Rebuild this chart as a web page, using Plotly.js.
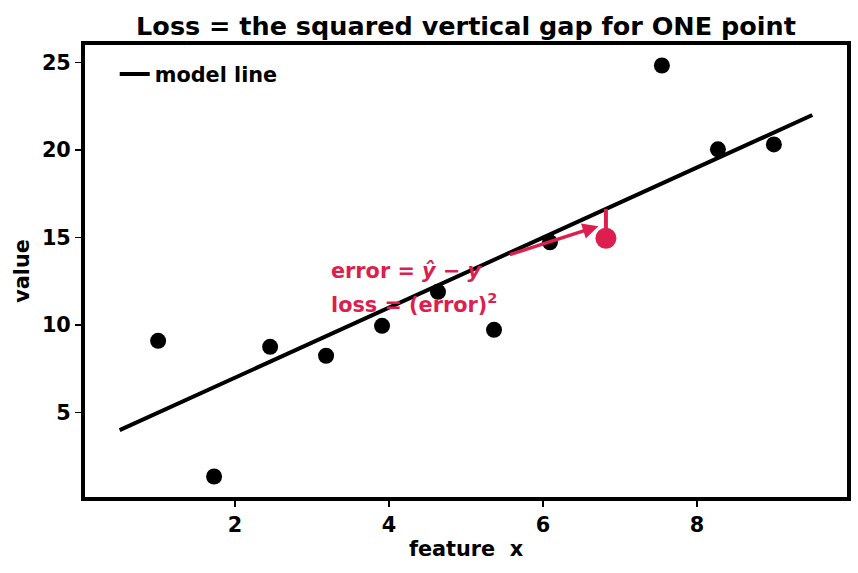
<!DOCTYPE html>
<html>
<head>
<meta charset="utf-8">
<script src="https://cdn.plot.ly/plotly-3.0.1.min.js"></script>
<style>html,body{margin:0;padding:0;background:#fff;}#chart{width:858px;height:573px;}</style>
</head>
<body>
<div id="chart"></div>
<script>
// Data
const pointX = [1.0, 1.727, 2.455, 3.182, 3.909, 4.636, 5.364, 6.091, 6.818, 7.545, 8.273, 9.0];
const pointY = [9.1, 1.35, 8.76, 8.25, 9.96, 11.9, 9.73, 14.73, 14.96, 24.83, 20.04, 20.32];
const lineX = [0.5, 9.5];
const lineY = [4.0, 22.0];
const highlightIndex = 8;
const arrowFrom = [5.55, 14.0];
const arrowTo = [6.72, 15.65];
const labelLines = ['error = <i>ŷ</i> − <i>y</i>', 'loss = (error)<sup>2</sup>'];
const labelPos = [[3.22, 13.1], [3.22, 11.25]];

const RED = '#DC1F4E';
const FONT = 'DejaVu Sans';
const FS = 20.8;

const slope = (lineY[1] - lineY[0]) / (lineX[1] - lineX[0]);
const icpt = lineY[0] - slope * lineX[0];
const hx = pointX[highlightIndex];
const hy = pointY[highlightIndex];
const yhat = slope * hx + icpt;

const otherX = pointX.filter((_, i) => i !== highlightIndex);
const otherY = pointY.filter((_, i) => i !== highlightIndex);

const traces = [
  {x: lineX, y: lineY, mode: 'lines', name: 'model line', line: {color: '#000', width: 4}, showlegend: true},
  {x: otherX, y: otherY, mode: 'markers', marker: {color: '#000', size: 16}, showlegend: false},
  {x: [hx, hx], y: [hy, yhat], mode: 'lines', line: {color: RED, width: 4}, showlegend: false},
  {x: [hx], y: [hy], mode: 'markers', marker: {color: RED, size: 21}, showlegend: false}
];

const annotations = [
  {x: arrowTo[0], y: arrowTo[1], ax: arrowFrom[0], ay: arrowFrom[1], xref: 'x', yref: 'y', axref: 'x', ayref: 'y',
   text: '', showarrow: true, arrowhead: 2, arrowsize: 0.9, arrowwidth: 3.5, arrowcolor: RED},
];
labelLines.forEach((t, i) => annotations.push({
  x: labelPos[i][0], y: labelPos[i][1], xref: 'x', yref: 'y', text: t, showarrow: false,
  xanchor: 'left', yanchor: 'middle', font: {family: FONT, size: FS, color: RED, weight: 'bold'}
}));

const axisCommon = {
  showgrid: false, zeroline: false, showline: true, linecolor: '#000', linewidth: 4, mirror: true,
  ticks: 'outside', ticklen: 6, tickwidth: 1.5, tickcolor: '#000',
  tickfont: {family: FONT, size: FS, color: '#000', weight: 'bold'}
};

const layout = {
  width: 858, height: 573,
  margin: {l: 85, r: 11, t: 45, b: 76},
  paper_bgcolor: '#fff', plot_bgcolor: '#fff',
  title: {text: 'Loss = the squared vertical gap for ONE point', xref: 'paper', x: 0.5, xanchor: 'center', y: 0.955, yanchor: 'middle',
          font: {family: FONT, size: 25.5, color: '#000', weight: 'bold'}},
  xaxis: Object.assign({}, axisCommon, {range: [0.05, 9.95], tickvals: [2, 4, 6, 8],
    title: {text: 'feature  x', standoff: 6, font: {family: FONT, size: FS, color: '#000', weight: 'bold'}}}),
  yaxis: Object.assign({}, axisCommon, {range: [0.18, 26.0], tickvals: [5, 10, 15, 20, 25],
    title: {text: 'value', standoff: 8, font: {family: FONT, size: FS, color: '#000', weight: 'bold'}}}),
  legend: {x: 0.039, y: 0.98, xanchor: 'left', yanchor: 'top', bgcolor: 'rgba(255,255,255,0)',
           font: {family: FONT, size: FS, color: '#000', weight: 'bold'}},
  annotations: annotations,
  showlegend: true
};

Plotly.newPlot('chart', traces, layout, {displayModeBar: false, staticPlot: true});
</script>
</body>
</html>
